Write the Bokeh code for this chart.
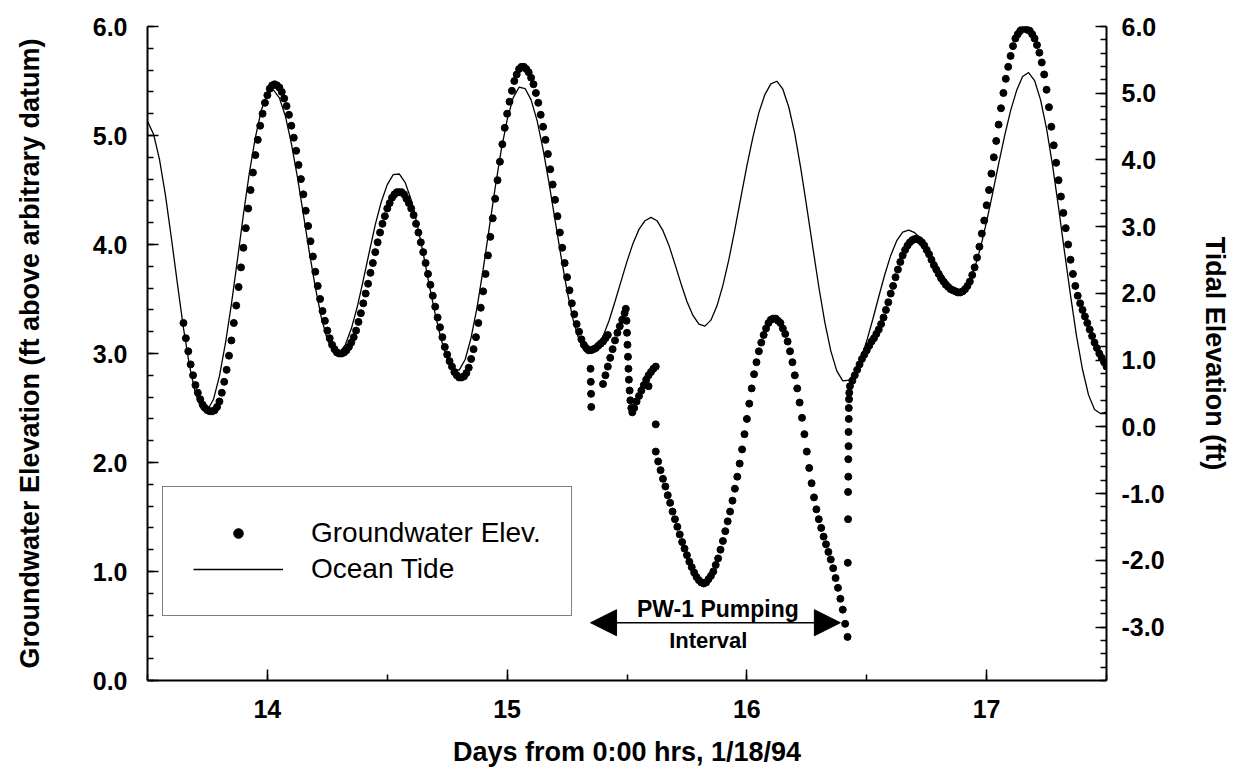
from bokeh.plotting import figure
from bokeh.models import (Range1d, LinearAxis, SingleIntervalTicker, PrintfTickFormatter,
                          Legend, LegendItem, Arrow, NormalHead, Label)
from bokeh.embed import file_html
from bokeh.resources import INLINE

# ---------------- data ----------------
tide_day = [13.500, 13.525, 13.550, 13.575, 13.600, 13.625, 13.650, 13.675, 13.700, 13.725,
            13.750, 13.775, 13.800, 13.825, 13.850, 13.875, 13.900, 13.925, 13.950, 13.975,
            14.000, 14.025, 14.050, 14.075, 14.100, 14.125, 14.150, 14.175, 14.200, 14.225,
            14.250, 14.275, 14.300, 14.325, 14.350, 14.375, 14.400, 14.425, 14.450, 14.475,
            14.500, 14.525, 14.550, 14.575, 14.600, 14.625, 14.650, 14.675, 14.700, 14.725,
            14.750, 14.775, 14.800, 14.825, 14.850, 14.875, 14.900, 14.925, 14.950, 14.975,
            15.000, 15.025, 15.050, 15.075, 15.100, 15.125, 15.150, 15.175, 15.200, 15.225,
            15.250, 15.275, 15.300, 15.325, 15.350, 15.375, 15.400, 15.425, 15.450, 15.475,
            15.500, 15.525, 15.550, 15.575, 15.600, 15.625, 15.650, 15.675, 15.700, 15.725,
            15.750, 15.775, 15.800, 15.825, 15.850, 15.875, 15.900, 15.925, 15.950, 15.975,
            16.000, 16.025, 16.050, 16.075, 16.100, 16.125, 16.150, 16.175, 16.200, 16.225,
            16.250, 16.275, 16.300, 16.325, 16.350, 16.375, 16.400, 16.425, 16.450, 16.475,
            16.500, 16.525, 16.550, 16.575, 16.600, 16.625, 16.650, 16.675, 16.700, 16.725,
            16.750, 16.775, 16.800, 16.825, 16.850, 16.875, 16.900, 16.925, 16.950, 16.975,
            17.000, 17.025, 17.050, 17.075, 17.100, 17.125, 17.150, 17.175, 17.200, 17.225,
            17.250, 17.275, 17.300, 17.325, 17.350, 17.375, 17.400, 17.425, 17.450, 17.475,
            17.500]
tide_ft = [4.58, 4.39, 4.01, 3.47, 2.82, 2.14, 1.48, 0.92, 0.50, 0.27,
           0.25, 0.41, 0.76, 1.25, 1.84, 2.50, 3.18, 3.81, 4.34, 4.75,
           4.99, 5.05, 4.93, 4.66, 4.25, 3.75, 3.19, 2.62, 2.09, 1.64,
           1.31, 1.13, 1.11, 1.23, 1.47, 1.80, 2.20, 2.62, 3.03, 3.37,
           3.63, 3.78, 3.79, 3.66, 3.40, 3.03, 2.60, 2.13, 1.69, 1.31,
           1.02, 0.87, 0.85, 1.01, 1.34, 1.80, 2.36, 2.97, 3.58, 4.14,
           4.60, 4.93, 5.09, 5.07, 4.90, 4.59, 4.16, 3.65, 3.10, 2.55,
           2.04, 1.61, 1.30, 1.13, 1.11, 1.19, 1.36, 1.59, 1.88, 2.18,
           2.48, 2.75, 2.96, 3.09, 3.14, 3.09, 2.94, 2.72, 2.44, 2.15,
           1.88, 1.67, 1.54, 1.51, 1.60, 1.81, 2.12, 2.51, 2.96, 3.44,
           3.91, 4.34, 4.71, 4.98, 5.14, 5.18, 5.06, 4.79, 4.39, 3.87,
           3.29, 2.69, 2.10, 1.57, 1.14, 0.84, 0.69, 0.70, 0.81, 1.01,
           1.29, 1.61, 1.95, 2.28, 2.57, 2.79, 2.92, 2.95, 2.91, 2.82,
           2.69, 2.53, 2.37, 2.23, 2.12, 2.06, 2.06, 2.17, 2.38, 2.69,
           3.08, 3.50, 3.94, 4.36, 4.74, 5.04, 5.25, 5.31, 5.19, 4.90,
           4.47, 3.92, 3.29, 2.62, 1.97, 1.36, 0.86, 0.48, 0.26, 0.20,
           0.22]

# groundwater before pumping
pre_day = [13.65, 13.66, 13.67, 13.68, 13.69, 13.70, 13.71, 13.72, 13.73, 13.74,
           13.75, 13.76, 13.77, 13.78, 13.79, 13.80, 13.81, 13.82, 13.83, 13.84,
           13.85, 13.86, 13.87, 13.88, 13.89, 13.90, 13.91, 13.92, 13.93, 13.94,
           13.95, 13.96, 13.97, 13.98, 13.99, 14.00, 14.01, 14.02, 14.03, 14.04,
           14.05, 14.06, 14.07, 14.08, 14.09, 14.10, 14.11, 14.12, 14.13, 14.14,
           14.15, 14.16, 14.17, 14.18, 14.19, 14.20, 14.21, 14.22, 14.23, 14.24,
           14.25, 14.26, 14.27, 14.28, 14.29, 14.30, 14.31, 14.32, 14.33, 14.34,
           14.35, 14.36, 14.37, 14.38, 14.39, 14.40, 14.41, 14.42, 14.43, 14.44,
           14.45, 14.46, 14.47, 14.48, 14.49, 14.50, 14.51, 14.52, 14.53, 14.54,
           14.55, 14.56, 14.57, 14.58, 14.59, 14.60, 14.61, 14.62, 14.63, 14.64,
           14.65, 14.66, 14.67, 14.68, 14.69, 14.70, 14.71, 14.72, 14.73, 14.74,
           14.75, 14.76, 14.77, 14.78, 14.79, 14.80, 14.81, 14.82, 14.83, 14.84,
           14.85, 14.86, 14.87, 14.88, 14.89, 14.90, 14.91, 14.92, 14.93, 14.94,
           14.95, 14.96, 14.97, 14.98, 14.99, 15.00, 15.01, 15.02, 15.03, 15.04,
           15.05, 15.06, 15.07, 15.08, 15.09, 15.10, 15.11, 15.12, 15.13, 15.14,
           15.15, 15.16, 15.17, 15.18, 15.19, 15.20, 15.21, 15.22, 15.23, 15.24,
           15.25, 15.26, 15.27, 15.28, 15.29, 15.30, 15.31, 15.32, 15.33, 15.34]
pre_ft = [3.28, 3.14, 3.02, 2.90, 2.80, 2.71, 2.64, 2.58, 2.53, 2.50,
          2.48, 2.47, 2.47, 2.48, 2.51, 2.56, 2.64, 2.74, 2.85, 2.98,
          3.12, 3.28, 3.44, 3.61, 3.79, 3.97, 4.15, 4.33, 4.50, 4.66,
          4.82, 4.96, 5.09, 5.20, 5.30, 5.37, 5.43, 5.46, 5.47, 5.46,
          5.44, 5.40, 5.34, 5.27, 5.19, 5.09, 4.98, 4.86, 4.73, 4.60,
          4.46, 4.31, 4.17, 4.03, 3.89, 3.75, 3.62, 3.50, 3.39, 3.30,
          3.21, 3.14, 3.08, 3.04, 3.01, 3.00, 3.00, 3.01, 3.03, 3.06,
          3.10, 3.15, 3.21, 3.29, 3.37, 3.46, 3.55, 3.64, 3.74, 3.83,
          3.93, 4.02, 4.11, 4.19, 4.26, 4.33, 4.38, 4.43, 4.46, 4.48,
          4.48, 4.48, 4.46, 4.42, 4.38, 4.33, 4.27, 4.19, 4.11, 4.02,
          3.93, 3.83, 3.73, 3.63, 3.53, 3.43, 3.33, 3.24, 3.15, 3.06,
          2.99, 2.93, 2.88, 2.83, 2.80, 2.78, 2.78, 2.79, 2.82, 2.87,
          2.95, 3.04, 3.15, 3.28, 3.42, 3.57, 3.73, 3.90, 4.07, 4.24,
          4.42, 4.59, 4.76, 4.92, 5.07, 5.20, 5.31, 5.41, 5.50, 5.56,
          5.61, 5.63, 5.63, 5.61, 5.58, 5.53, 5.47, 5.39, 5.30, 5.19,
          5.08, 4.96, 4.83, 4.69, 4.55, 4.41, 4.26, 4.11, 3.97, 3.83,
          3.70, 3.58, 3.46, 3.36, 3.27, 3.20, 3.13, 3.08, 3.05, 3.03]

# groundwater during the PW-1 pumping interval
pump_day = [15.348, 15.349, 15.350, 15.351,
            15.35, 15.36, 15.37, 15.38, 15.39, 15.40, 15.41, 15.42,
            15.40, 15.41, 15.42, 15.43, 15.44, 15.45, 15.46, 15.47, 15.48, 15.49, 15.495,
            15.498, 15.500, 15.502, 15.504, 15.506, 15.508, 15.511, 15.514, 15.518, 15.522,
            15.53, 15.54, 15.55, 15.56, 15.57, 15.58, 15.59, 15.60, 15.61, 15.62,
            15.59, 15.62,
            15.62, 15.63, 15.64, 15.65, 15.66, 15.67, 15.68, 15.69, 15.70, 15.71,
            15.72, 15.73, 15.74, 15.75, 15.76, 15.77, 15.78, 15.79, 15.80, 15.81,
            15.82, 15.83, 15.84, 15.85, 15.86, 15.87, 15.88, 15.89, 15.90, 15.91,
            15.92, 15.93, 15.94, 15.95, 15.96, 15.97, 15.98, 15.99, 16.00, 16.01,
            16.02, 16.03, 16.04, 16.05, 16.06, 16.07, 16.08, 16.09, 16.10, 16.11,
            16.12, 16.13, 16.14, 16.15, 16.16, 16.17, 16.18, 16.19, 16.20, 16.21,
            16.22, 16.23, 16.24, 16.25, 16.26, 16.27, 16.28, 16.29, 16.30, 16.31,
            16.32, 16.33, 16.34, 16.35, 16.36, 16.37, 16.38, 16.39, 16.40, 16.41,
            16.42,
            16.421, 16.422, 16.422, 16.423, 16.423, 16.424, 16.424, 16.425, 16.425, 16.426,
            16.427]
pump_ft = [2.86, 2.74, 2.63, 2.51,
           3.03, 3.04, 3.05, 3.07, 3.09, 3.11, 3.14, 3.17,
           2.72, 2.80, 2.88, 2.96, 3.04, 3.12, 3.19, 3.25, 3.31, 3.37, 3.41,
           3.30, 3.19, 3.08, 2.97, 2.86, 2.76, 2.66, 2.57, 2.50, 2.46,
           2.50, 2.56, 2.61, 2.66, 2.71, 2.76, 2.80, 2.83, 2.86, 2.88,
           2.70, 2.35,
           2.10, 2.01, 1.93, 1.85, 1.78, 1.70, 1.63, 1.55, 1.48, 1.41,
           1.34, 1.27, 1.21, 1.15, 1.09, 1.04, 0.99, 0.95, 0.92, 0.90,
           0.89, 0.90, 0.93, 0.96, 1.00, 1.06, 1.12, 1.20, 1.28, 1.37,
           1.46, 1.55, 1.65, 1.76, 1.87, 1.99, 2.12, 2.26, 2.40, 2.54,
           2.68, 2.81, 2.92, 3.02, 3.10, 3.17, 3.23, 3.28, 3.31, 3.32,
           3.32, 3.30, 3.28, 3.23, 3.18, 3.11, 3.02, 2.92, 2.80, 2.68,
           2.55, 2.41, 2.26, 2.10, 1.95, 1.81, 1.68, 1.57, 1.48, 1.40,
           1.32, 1.25, 1.18, 1.11, 1.03, 0.94, 0.85, 0.75, 0.65, 0.52,
           0.40,
           1.08, 1.48, 1.73, 1.87, 2.03, 2.15, 2.28, 2.40, 2.50, 2.58,
           2.64]

# groundwater after pumping stopped
post_day = [16.43, 16.44, 16.45, 16.46, 16.47, 16.48, 16.49, 16.50, 16.51, 16.52,
            16.53, 16.54, 16.55, 16.56, 16.57, 16.58, 16.59, 16.60, 16.61, 16.62,
            16.63, 16.64, 16.65, 16.66, 16.67, 16.68, 16.69, 16.70, 16.71, 16.72,
            16.73, 16.74, 16.75, 16.76, 16.77, 16.78, 16.79, 16.80, 16.81, 16.82,
            16.83, 16.84, 16.85, 16.86, 16.87, 16.88, 16.89, 16.90, 16.91, 16.92,
            16.93, 16.94, 16.95, 16.96, 16.97, 16.98, 16.99, 17.00, 17.01, 17.02,
            17.03, 17.04, 17.05, 17.06, 17.07, 17.08, 17.09, 17.10, 17.11, 17.12,
            17.13, 17.14, 17.15, 17.16, 17.17, 17.18, 17.19, 17.20, 17.21, 17.22,
            17.23, 17.24, 17.25, 17.26, 17.27, 17.28, 17.29, 17.30, 17.31, 17.32,
            17.33, 17.34, 17.35, 17.36, 17.37, 17.38, 17.39, 17.40, 17.41, 17.42,
            17.43, 17.44, 17.45, 17.46, 17.47, 17.48, 17.49, 17.50]
post_ft = [2.70, 2.75, 2.80, 2.85, 2.90, 2.95, 2.99, 3.03, 3.07, 3.11,
           3.14, 3.18, 3.22, 3.27, 3.33, 3.40, 3.47, 3.55, 3.62, 3.70,
           3.77, 3.84, 3.90, 3.95, 3.99, 4.02, 4.04, 4.05, 4.05, 4.04,
           4.02, 3.99, 3.95, 3.91, 3.86, 3.81, 3.77, 3.73, 3.69, 3.66,
           3.63, 3.61, 3.59, 3.58, 3.57, 3.56, 3.56, 3.57, 3.59, 3.62,
           3.66, 3.72, 3.79, 3.88, 3.98, 4.10, 4.22, 4.36, 4.50, 4.65,
           4.80, 4.95, 5.10, 5.25, 5.39, 5.52, 5.63, 5.73, 5.82, 5.89,
           5.93, 5.96, 5.98, 5.98, 5.97, 5.96, 5.93, 5.89, 5.83, 5.76,
           5.67, 5.56, 5.42, 5.26, 5.08, 4.91, 4.75, 4.59, 4.44, 4.29,
           4.15, 4.00, 3.86, 3.73, 3.62, 3.53, 3.46, 3.40, 3.34, 3.28,
           3.22, 3.16, 3.10, 3.05, 3.00, 2.96, 2.92, 2.88]

gw_day = pre_day + pump_day + post_day
gw_ft = pre_ft + pump_ft + post_ft

pump_start, pump_end, pump_y = 15.348, 16.39, 0.53

# ---------------- figure ----------------
FONT = "Liberation Sans"

p = figure(width=1238, height=783, output_backend="svg", toolbar_location=None,
           x_range=Range1d(13.5, 17.5), y_range=Range1d(0, 6),
           min_border_left=147, min_border_right=132, min_border_top=26,
           min_border_bottom=103)
p.extra_y_ranges = {"tide": Range1d(-3.8, 6.0)}
p.outline_line_color = None
p.xgrid.visible = False
p.ygrid.visible = False
p.background_fill_color = "white"
p.border_fill_color = "white"

def style_axis(ax, label, standoff, lab_standoff):
    ax.axis_label = label
    ax.axis_label_text_font = FONT
    ax.axis_label_text_font_size = "27px"
    ax.axis_label_text_font_style = "bold"
    ax.axis_label_text_color = "black"
    ax.axis_label_standoff = lab_standoff
    ax.major_label_text_font = FONT
    ax.major_label_text_font_size = "25px"
    ax.major_label_text_font_style = "bold"
    ax.major_label_text_color = "black"
    ax.major_label_standoff = standoff
    ax.axis_line_width = 2
    ax.axis_line_color = "black"
    ax.major_tick_in = 11
    ax.major_tick_out = 0
    ax.minor_tick_in = 6
    ax.minor_tick_out = 0
    ax.major_tick_line_width = 1.5
    ax.minor_tick_line_width = 1.5
    ax.major_tick_line_color = "black"
    ax.minor_tick_line_color = "black"

xa = p.xaxis[0]
xa.ticker = SingleIntervalTicker(interval=1, num_minor_ticks=2)
xa.formatter = PrintfTickFormatter(format="%d")
style_axis(xa, "Days from 0:00 hrs, 1/18/94", 19, 16)

ya = p.yaxis[0]
ya.ticker = SingleIntervalTicker(interval=1, num_minor_ticks=5)
ya.formatter = PrintfTickFormatter(format="%.1f")
style_axis(ya, "Groundwater Elevation (ft above arbitrary datum)", 20, 45)

ra = LinearAxis(y_range_name="tide")
ra.ticker = SingleIntervalTicker(interval=1, num_minor_ticks=5)
ra.formatter = PrintfTickFormatter(format="%.1f")
style_axis(ra, "Tidal Elevation (ft)", 15, 32)
p.add_layout(ra, "right")

# ---------------- glyphs ----------------
tide_r = p.line(tide_day, tide_ft, y_range_name="tide", line_color="black", line_width=1.3)
gw_r = p.scatter(gw_day, gw_ft, size=7, marker="circle", fill_color="black",
                 line_color="black")

# ---------------- annotations ----------------
p.add_layout(Arrow(start=NormalHead(size=26, fill_color="black", line_color="black"),
                   end=NormalHead(size=26, fill_color="black", line_color="black"),
                   x_start=pump_start, y_start=pump_y, x_end=pump_end, y_end=pump_y,
                   line_width=1.5, line_color="black"))
p.add_layout(Label(x=(pump_start + pump_end) / 2 + 0.01, y=0.655, text="PW-1 Pumping",
                   text_align="center", text_baseline="middle", text_font=FONT,
                   text_font_size="23px", text_font_style="bold", text_color="black"))
p.add_layout(Label(x=(pump_start + pump_end) / 2 - 0.03, y=0.37, text="Interval",
                   text_align="center", text_baseline="middle", text_font=FONT,
                   text_font_size="22px", text_font_style="bold", text_color="black"))

legend = Legend(items=[LegendItem(label="Groundwater Elev.", renderers=[gw_r]),
                       LegendItem(label="Ocean Tide", renderers=[tide_r])],
                location=(15, 64), orientation="vertical")
legend.label_text_font = FONT
legend.label_text_font_size = "28px"
legend.label_text_color = "black"
legend.label_standoff = 28
legend.glyph_width = 90
legend.glyph_height = 24
legend.label_height = 24
legend.spacing = 4
legend.padding = 30
legend.margin = 0
legend.border_line_color = "black"
legend.border_line_width = 1.5
legend.background_fill_color = "white"
legend.background_fill_alpha = 1.0
p.add_layout(legend)

open("out.html", "w").write(file_html(p, INLINE))
